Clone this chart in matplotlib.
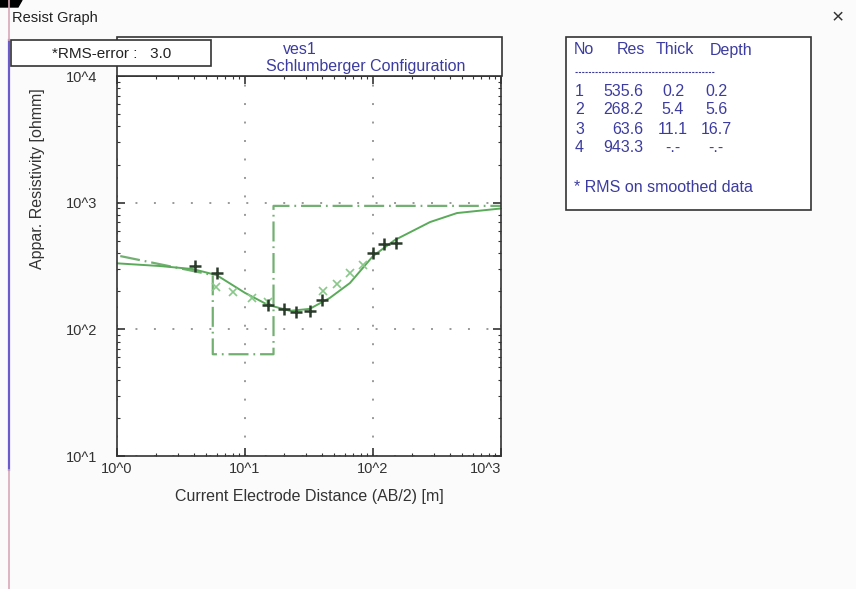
import numpy as np
import matplotlib
matplotlib.use('Agg')
import matplotlib.pyplot as plt
from matplotlib.patches import Rectangle, Polygon
from matplotlib.lines import Line2D
from matplotlib.ticker import FixedLocator, LogLocator, NullFormatter

plt.rcParams['font.family'] = ['Liberation Sans', 'DejaVu Sans']

# layer model
layer_no = [1, 2, 3, 4]
layer_res = [535.6, 268.2, 63.6, 943.3]
layer_thick = [0.2, 5.4, 11.1]
layer_depth = [0.2, 5.6, 16.7]

# field data (+)
ab2_obs = [4.1, 6.0, 15.2, 20, 25, 32, 40, 100, 122, 150]
rho_obs = [318, 277, 155, 146, 138, 140, 170, 398, 470, 483]
# smoothed data (x)
ab2_smooth = [5.9, 8.1, 11.3, 15.1, 40.7, 52.3, 66, 83.5]
rho_smooth = [216, 197, 177, 164, 201, 228, 279, 322]
# calculated response
ab2_calc = [1, 2.17, 3.92, 6.0, 10, 15.1, 22.5, 32, 46, 66, 100, 148, 279, 453, 1000]
rho_calc = [332, 316, 299, 268, 194, 156, 140, 145, 177, 232, 379, 507, 703, 828, 900]

x_ticks = [1, 10, 100, 1000]
x_ticklabels = ['10^0', '10^1', '10^2', '10^3']
y_ticks = [10, 100, 1000, 10000]
y_ticklabels = ['10^1', '10^2', '10^3', '10^4']

W, H = 856, 589


def fx(px):
    return px / W


def fy(py):
    return 1 - py / H


fig = plt.figure(figsize=(W / 100, H / 100), dpi=100)
fig.patch.set_facecolor('#fbfbfb')

# window decorations
fig.text(fx(12), fy(18), 'Resist Graph', fontsize=10.5, color='#222222', va='center')
fig.text(fx(838), fy(18), '\u00d7', fontsize=15, color='#333333', va='center', ha='center')
fig.add_artist(Line2D([fx(9), fx(9)], [fy(40), fy(470)], color='#6a5acd', lw=1.6))
fig.add_artist(Line2D([fx(9), fx(9)], [fy(470), fy(589)], color='#d8a8b8', lw=1.2))
fig.add_artist(Line2D([fx(9), fx(9)], [fy(0), fy(40)], color='#d8a8b8', lw=1.2))
fig.add_artist(Polygon([[fx(0), fy(0)], [fx(22), fy(0)], [fx(18), fy(7)], [fx(0), fy(7)]],
                       closed=True, transform=fig.transFigure, color='black'))

# title box above plot
fig.add_artist(Rectangle((fx(117), fy(76)), fx(502) - fx(117), fy(37) - fy(76),
                         transform=fig.transFigure, facecolor='white', edgecolor='#333333', lw=1.2))
fig.text(fx(300), fy(49), 'ves1', fontsize=11.5, color='#3c3ca0', ha='center', va='center')
fig.text(fx(366), fy(66), 'Schlumberger Configuration', fontsize=11.5, color='#3c3ca0',
         ha='center', va='center')

ax = fig.add_axes([fx(117), fy(456), fx(501) - fx(117), fy(76) - fy(456)])
ax.set_facecolor('white')

# model as dashed step line
model_x = [layer_depth[0], layer_depth[1], layer_depth[1], layer_depth[2], layer_depth[2], 1000]
model_y = [layer_res[0], layer_res[1], layer_res[2], layer_res[2], layer_res[3], layer_res[3]]
ax.plot(model_x, model_y, color='#72b072', lw=1.6, linestyle=(0, (9, 2.2, 0.8, 2.2)))
ax.plot(ab2_calc, rho_calc, color='#5aaa5a', lw=1.4)
ax.plot(ab2_smooth, rho_smooth, 'x', color='#88c888', ms=6, mew=1.2)
ax.plot(ab2_obs, rho_obs, '+', color='#2a3a2a', ms=9, mew=1.8)

ax.set_xscale('log')
ax.set_yscale('log')
ax.set_xlim(1, 1000)
ax.set_ylim(10, 10000)

ax.grid(True, which='major', color='#999999', lw=1.4, linestyle=(0, (1, 8.5)))
ax.xaxis.set_major_locator(FixedLocator(x_ticks))
ax.yaxis.set_major_locator(FixedLocator(y_ticks))
ax.set_xticklabels(x_ticklabels)
ax.set_yticklabels(y_ticklabels)
ax.xaxis.set_minor_locator(LogLocator(base=10, subs=np.arange(2, 10)))
ax.yaxis.set_minor_locator(LogLocator(base=10, subs=np.arange(2, 10)))
ax.xaxis.set_minor_formatter(NullFormatter())
ax.yaxis.set_minor_formatter(NullFormatter())
ax.tick_params(which='both', direction='in', top=True, right=True, colors='#333333',
               labelcolor='#333333', labelsize=10.5)
ax.tick_params(which='major', length=6, width=1.2)
ax.tick_params(which='minor', length=2.5, width=0.8)
ax.tick_params(axis='y', which='major', pad=14)
ax.tick_params(axis='x', which='major', pad=4)
lbls = ax.get_xticklabels()
lbls[-1].set_horizontalalignment('right')
for s in ax.spines.values():
    s.set_color('#333333')
    s.set_linewidth(1.2)

ax.set_xlabel('Current Electrode Distance (AB/2) [m]', fontsize=11.5, color='#333333', labelpad=10)
fig.text(fx(38), fy(179), 'Appar. Resistivity [ohmm]', fontsize=11.5, color='#333333',
         rotation=90, ha='center', va='center')

# RMS box
fig.add_artist(Rectangle((fx(11), fy(66)), fx(211) - fx(11), fy(40) - fy(66),
                         transform=fig.transFigure, facecolor='white', edgecolor='#333333',
                         lw=1.2, zorder=5))
fig.text(fx(112), fy(54), '*RMS-error :   3.0', fontsize=11, color='#222222',
         ha='center', va='center', zorder=6)

# result table
blue = '#3c3ca0'
fs = 11.5
fig.add_artist(Rectangle((fx(566), fy(210)), fx(811) - fx(566), fy(37) - fy(210),
                         transform=fig.transFigure, facecolor='white', edgecolor='#333333', lw=1.2))
fig.text(fx(574), fy(50), 'No', fontsize=fs, color=blue, va='center')
fig.text(fx(631), fy(50), 'Res', fontsize=fs, color=blue, va='center', ha='center')
fig.text(fx(675), fy(50), 'Thick', fontsize=fs, color=blue, va='center', ha='center')
fig.text(fx(731), fy(50), 'Depth', fontsize=fs, color=blue, va='center', ha='center')
fig.add_artist(Line2D([fx(575), fx(714)], [fy(72), fy(72)], color=blue, lw=0.8,
                      linestyle=(0, (2, 1))))
row_y = [91, 110, 129, 148]
for i, n in enumerate(layer_no):
    y = fy(row_y[i])
    fig.text(fx(584), y, str(n), fontsize=fs, color=blue, va='center', ha='right')
    fig.text(fx(643), y, '%.1f' % layer_res[i], fontsize=fs, color=blue, va='center', ha='right')
    if i < len(layer_thick):
        t = '%.1f' % layer_thick[i]
        d = '%.1f' % layer_depth[i]
    else:
        t = d = '-.-'
    fig.text(fx(673), y, t, fontsize=fs, color=blue, va='center', ha='center')
    fig.text(fx(716), y, d, fontsize=fs, color=blue, va='center', ha='center')
fig.text(fx(574), fy(188), '* RMS on smoothed data', fontsize=fs, color=blue, va='center')

fig.savefig('out.png', dpi=100, facecolor=fig.get_facecolor())
